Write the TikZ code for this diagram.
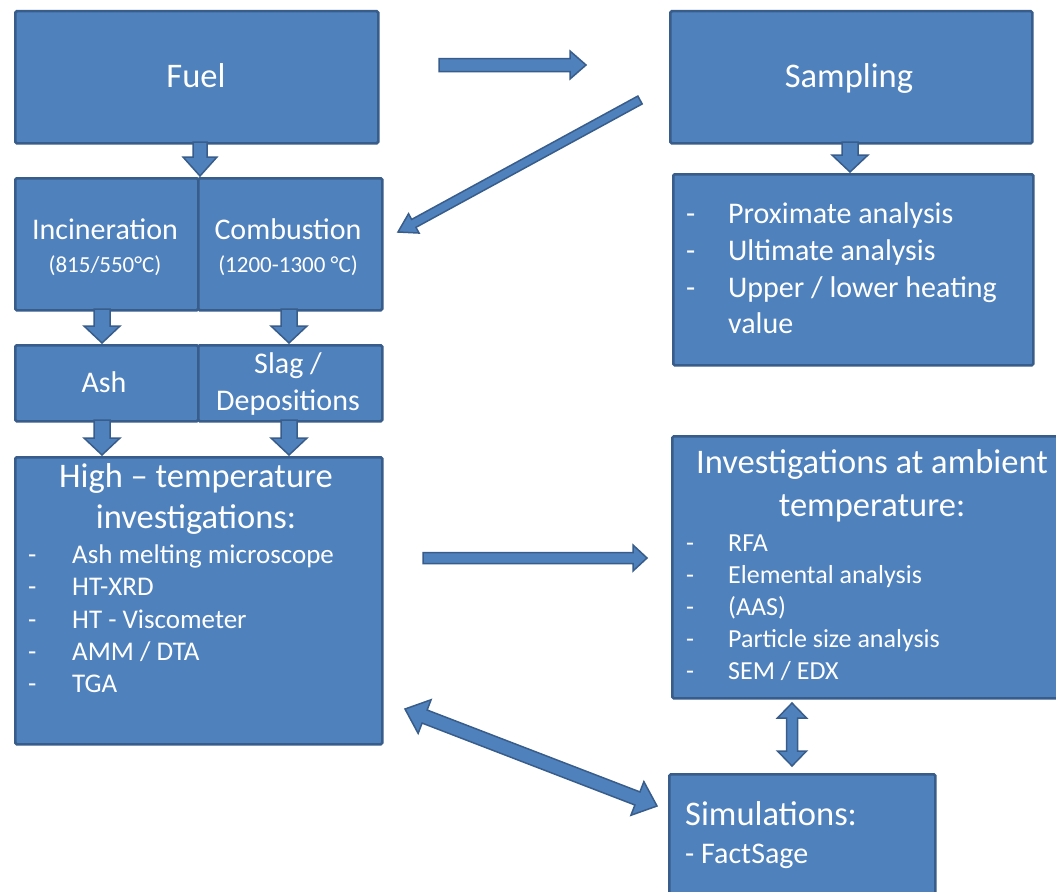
\documentclass[tikz,border=0pt]{standalone}
\usepackage{fontspec}
\setmainfont{Carlito}
\usetikzlibrary{calc}
\definecolor{boxfill}{HTML}{4F81BD}
\definecolor{boxline}{HTML}{385D8A}
\newcommand\singlearrow[5]{%
  \coordinate (hb) at ($(#2)!#5!(#1)$);
  \draw[arr] ($(#1)!#3!90:(#2)$) -- ($(hb)!#3!-90:(#1)$) -- ($(hb)!#4!-90:(#1)$) -- (#2)
    -- ($(hb)!#4!90:(#1)$) -- ($(hb)!#3!90:(#1)$) -- ($(#1)!#3!-90:(#2)$) -- cycle;
}
\newcommand\doublearrow[5]{%
  \coordinate (ha) at ($(#1)!#5!(#2)$);
  \coordinate (hb) at ($(#2)!#5!(#1)$);
  \draw[arr] (#1) -- ($(ha)!#4!90:(#2)$) -- ($(ha)!#3!90:(#2)$) -- ($(hb)!#3!-90:(#1)$)
    -- ($(hb)!#4!-90:(#1)$) -- (#2) -- ($(hb)!#4!90:(#1)$) -- ($(hb)!#3!90:(#1)$)
    -- ($(ha)!#3!-90:(#2)$) -- ($(ha)!#4!-90:(#2)$) -- cycle;
}
\begin{document}
\begin{tikzpicture}[x=1pt,y=-1pt,
  box/.style={draw=boxline, fill=boxfill, line width=2.5pt, rounded corners=1.5pt, anchor=north west, inner sep=0pt},
  arr/.style={draw=boxline, fill=boxfill, line width=1.5pt, line join=miter},
  txt/.style={text=white, inner sep=0pt},
  ctr/.style={txt, anchor=base},
  lft/.style={txt, anchor=base west},
  big/.style={font=\fontsize{34.5}{41}\selectfont},
  mid/.style={font=\fontsize{30}{36}\selectfont},
  sml/.style={font=\fontsize{23}{28}\selectfont},
  lsa/.style={font=\fontsize{30}{37}\selectfont},
  lht/.style={font=\fontsize{27}{33}\selectfont},
  lin/.style={font=\fontsize{26}{32}\selectfont}]
\useasboundingbox (0,0) rectangle (1056,891);
\fill[white] (0,0) rectangle (1056,891);

% boxes
\node[box, minimum width=363pt, minimum height=132pt] (fuel) at (14,10) {};
\node[box, minimum width=362pt, minimum height=132pt] (sampling) at (669,10) {};
\node[box, minimum width=183pt, minimum height=132pt] (incin) at (14,177) {};
\node[box, minimum width=184pt, minimum height=132pt] (combust) at (197,177) {};
\node[box, minimum width=183pt, minimum height=76pt] (ash) at (14,344) {};
\node[box, minimum width=184pt, minimum height=76pt] (slag) at (197,344) {};
\node[box, minimum width=367pt, minimum height=287pt] (ht) at (14,456) {};
\node[box, minimum width=360pt, minimum height=191pt] (prox) at (672,173) {};
\node[box, minimum width=388pt, minimum height=262pt] (inv) at (671,435) {};
\node[box, minimum width=266pt, minimum height=130pt] (sim) at (668,773) {};

% texts
\node[ctr, big] (tfuel) at (196,87) {Fuel};
\node[ctr, big] (tsamp) at (849,87) {Sampling};
\node[ctr, mid] (tinc1) at (105,239) {Incineration};
\node[ctr, sml] (tinc2) at (105,272) {(815/550°C)};
\node[ctr, mid] (tcom1) at (288,239) {Combustion};
\node[ctr, sml] (tcom2) at (288,272) {(1200-1300 °C)};
\node[ctr, mid] (tash) at (104,392) {Ash};
\node[ctr, mid] (tslag1) at (288,373) {Slag /};
\node[ctr, mid] (tslag2) at (288,410) {Depositions};
\node[ctr, big] (tht1) at (196,487) {High – temperature};
\node[ctr, big] (tht2) at (196,528) {investigations:};
\foreach \y/\t [count=\i] in {563/{Ash melting microscope}, 595/{HT-XRD}, 628/{HT - Viscometer}, 660/{AMM / DTA}, 692/{TGA}}{
  \node[lft, lht] (htd\i) at (28,\y) {-};
  \node[lft, lht] (htl\i) at (72,\y) {\t};
}
\foreach \y/\t [count=\i] in {223/{Proximate analysis}, 260/{Ultimate analysis}, 297/{Upper / lower heating}}{
  \node[lft, lsa] (pxd\i) at (686,\y) {-};
  \node[lft, lsa] (pxl\i) at (728,\y) {\t};
}
\node[lft, lsa] (pxl4) at (728,333) {value};
\node[ctr, big] (tinv1) at (872,473) {Investigations at ambient};
\node[ctr, big] (tinv2) at (872,516) {temperature:};
\foreach \y/\t [count=\i] in {551/{RFA}, 583/{Elemental analysis}, 615/{(AAS)}, 647/{Particle size analysis}, 679/{SEM / EDX}}{
  \node[lft, lin] (ivd\i) at (686,\y) {-};
  \node[lft, lin] (ivl\i) at (728,\y) {\t};
}
\node[lft, big] (tsim1) at (685,825) {Simulations:};
\node[lft, lsa] (tsim2) at (685,863) {- FactSage};

% arrows
\coordinate (a1s) at (439,65);  \coordinate (a1e) at (586,65);
\singlearrow{a1s}{a1e}{6.5pt}{14pt}{16pt}
\coordinate (a2s) at (640,100); \coordinate (a2e) at (398,232);
\singlearrow{a2s}{a2e}{4.5pt}{11pt}{18pt}
\coordinate (a3s) at (200,142); \coordinate (a3e) at (200,176);
\singlearrow{a3s}{a3e}{7pt}{17pt}{19pt}
\coordinate (a4s) at (102,309); \coordinate (a4e) at (102,343);
\singlearrow{a4s}{a4e}{8pt}{18pt}{17pt}
\coordinate (a5s) at (289,309); \coordinate (a5e) at (289,343);
\singlearrow{a5s}{a5e}{8pt}{18pt}{17pt}
\coordinate (a6s) at (102,420); \coordinate (a6e) at (102,455);
\singlearrow{a6s}{a6e}{8pt}{18pt}{17pt}
\coordinate (a7s) at (289,420); \coordinate (a7e) at (289,455);
\singlearrow{a7s}{a7e}{8pt}{18pt}{17pt}
\coordinate (a8s) at (850,142); \coordinate (a8e) at (850,172);
\singlearrow{a8s}{a8e}{8pt}{18pt}{17pt}
\coordinate (a9s) at (423,558); \coordinate (a9e) at (647,558);
\singlearrow{a9s}{a9e}{5.5pt}{13pt}{14pt}
\coordinate (b1s) at (405,709); \coordinate (b1e) at (657,806);
\doublearrow{b1s}{b1e}{7pt}{18pt}{21pt}
\coordinate (b2s) at (792,703); \coordinate (b2e) at (792,766);
\doublearrow{b2s}{b2e}{5.5pt}{14.5pt}{15pt}
\end{tikzpicture}
\end{document}
